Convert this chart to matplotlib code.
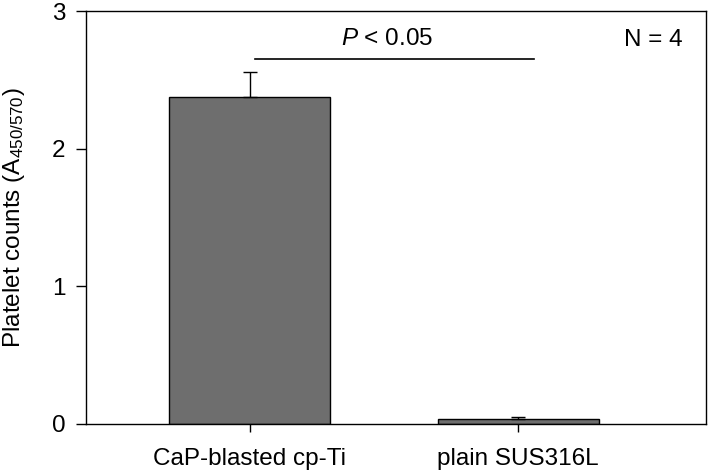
import matplotlib
matplotlib.use("Agg")
import matplotlib.pyplot as plt
import numpy as np

plt.rcParams['font.family'] = ['Liberation Sans', 'DejaVu Sans']
plt.rcParams['mathtext.fontset'] = 'custom'
plt.rcParams['mathtext.rm'] = 'Liberation Sans'
plt.rcParams['mathtext.it'] = 'Liberation Sans:italic'

# data
groups = ['CaP-blasted cp-Ti', 'plain SUS316L']
means = [2.375, 0.036]
errs = [0.18, 0.017]
yticks = [0, 1, 2, 3]

x = np.arange(len(groups))
fs = 17.5

fig = plt.figure(figsize=(7.09, 4.72), dpi=100)
ax = fig.add_axes([86 / 709, 48 / 472, 620 / 709, 413 / 472])

ax.bar(x, means, width=0.6, color='#6e6e6e', edgecolor='black', linewidth=1.0,
       yerr=[[0, 0], errs], error_kw=dict(ecolor='black', elinewidth=1.0, capsize=4.7, capthick=1.0))

ax.set_xlim(-0.61, 1.70)
ax.set_ylim(0, 3)
ax.set_yticks(yticks)
ax.set_xticks(x)
ax.set_xticklabels(groups, fontsize=fs)
ax.tick_params(axis='y', labelsize=fs, length=7, width=1.0, direction='out', pad=8)
ax.tick_params(axis='x', length=6, width=1.0, direction='out', pad=11)
ax.set_ylabel('Platelet counts (A$_{450/570}$)', fontsize=fs, labelpad=18)
for s in ax.spines.values():
    s.set_linewidth(1.0)

# significance bar
ax.plot([0.02, 1.06], [2.65, 2.65], color='black', linewidth=1.2)
ax.text(0.51, 2.72, r'$P$ < 0.05', ha='center', va='bottom', fontsize=fs)
ax.text(0.963, 0.93, 'N = 4', transform=ax.transAxes, ha='right', va='center', fontsize=fs)

fig.savefig('out.png', dpi=100)
